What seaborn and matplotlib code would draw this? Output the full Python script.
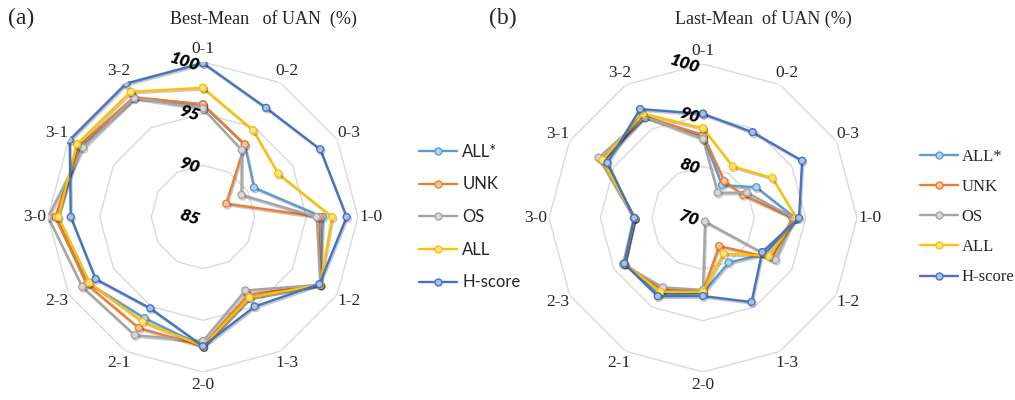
import numpy as np
import matplotlib
matplotlib.use("Agg")
import matplotlib.pyplot as plt
import matplotlib.patheffects as pe
from matplotlib.lines import Line2D
from matplotlib.colors import to_rgb
import seaborn as sns

# ---- data ---------------------------------------------------------------
categories = ["0-1", "0-2", "0-3", "1-0", "1-2", "1-3",
              "2-0", "2-1", "2-3", "3-0", "3-1", "3-2"]
series_names = ["ALL*", "UNK", "OS", "ALL", "H-score"]

# Best-Mean of UAN (%)
best_all_star = [95.9, 93.1, 90.7, 96.6, 98.1, 94.0, 97.5, 96.3, 97.8, 99.1, 98.7, 98.3]
best_unk      = [95.9, 93.1, 87.6, 96.3, 98.1, 93.7, 97.5, 97.4, 98.0, 99.3, 98.8, 98.4]
best_os       = [95.5, 92.5, 89.3, 96.0, 98.1, 93.2, 97.0, 98.2, 98.5, 100.0, 98.4, 98.3]
best_all      = [97.5, 94.7, 93.4, 97.5, 98.1, 94.0, 97.5, 96.7, 97.7, 99.0, 99.1, 99.0]
best_hscore   = [99.9, 97.2, 98.1, 98.9, 98.0, 95.0, 97.5, 95.2, 97.0, 97.8, 99.9, 99.9]

# Last-Mean of UAN (%)
last_all_star = [86.0, 77.4, 82.0, 88.0, 84.0, 80.0, 84.6, 87.2, 87.7, 83.3, 92.3, 92.8]
last_unk      = [86.2, 78.3, 79.0, 87.4, 85.6, 76.3, 84.3, 86.2, 87.7, 83.3, 92.8, 92.8]
last_os       = [85.4, 75.7, 79.9, 87.8, 86.3, 70.8, 84.0, 85.6, 88.0, 83.5, 93.5, 92.8]
last_all      = [87.5, 81.6, 85.6, 88.2, 84.8, 78.0, 84.4, 86.6, 87.7, 83.3, 92.6, 93.5]
last_hscore   = [90.3, 89.3, 92.3, 88.7, 83.3, 88.9, 85.2, 87.6, 87.7, 83.4, 91.5, 94.5]

best_ticks = [85, 90, 95, 100]
last_ticks = [70, 80, 90, 100]

colors = ["#5B9BD5", "#ED7D31", "#A5A5A5", "#FFC000", "#4472C4"]

# ---- style --------------------------------------------------------------
sns.set_style("white")
plt.rcParams["font.family"] = ["Liberation Serif", "DejaVu Serif"]

SERIF = "Liberation Serif"
SANS = "Lato"


def lighten(c, amount=0.55):
    r, g, b = to_rgb(c)
    return (r + (1 - r) * amount, g + (1 - g) * amount, b + (1 - b) * amount)


def draw_radar(ax, series, ticks):
    rmin, rmax = ticks[0], ticks[-1]
    theta = np.linspace(0, 2 * np.pi, len(categories), endpoint=False)
    theta_c = np.append(theta, theta[0] + 2 * np.pi)

    ax.set_theta_zero_location("N")
    ax.set_theta_direction(-1)
    ax.grid(False)
    ax.spines["polar"].set_visible(False)
    ax.patch.set_alpha(0)

    # polygonal rings
    for r in ticks[1:]:
        ax.plot(theta_c, [r] * len(theta_c), color="#D9D9D9", lw=1.0, zorder=1)

    shadow = [pe.SimpleLineShadow(offset=(0.8, -1.2), shadow_color="k", alpha=0.22),
              pe.Normal()]
    for i, (name, vals) in enumerate(zip(series_names, series)):
        v = np.append(vals, vals[0])
        sns.lineplot(x=theta_c, y=v, ax=ax, sort=False, estimator=None,
                     color=colors[i], lw=1.7, marker="o", markersize=5,
                     markerfacecolor=lighten(colors[i]),
                     markeredgecolor=colors[i], markeredgewidth=1.0,
                     path_effects=shadow, zorder=3 + i, legend=False)

    ax.set_ylim(rmin, rmax)
    ax.set_xticks([])
    ax.set_yticks([])
    ax.set_xlabel("")
    ax.set_ylabel("")

    # category labels around the outer ring
    lab_r = rmax + (rmax - rmin) * 0.087
    for t, cat in zip(theta, categories):
        ax.text(t, lab_r, cat, ha="center", va="center", family=SERIF,
                fontsize=12.5, clip_on=False)

    # value labels along the first spoke
    for r in ticks:
        ax.annotate(str(r), xy=(0, r), xytext=(-1, 0), textcoords="offset points",
                    ha="right", va="center", rotation=-18, family=SANS,
                    fontweight="heavy", fontstyle="italic", fontsize=12.5,
                    color="black", zorder=10)


fig = plt.figure(figsize=(10.15, 4.0), dpi=100)
W, H = 1015, 400

ax1 = fig.add_axes([48 / W, 28 / H, 310 / W, 310 / H], projection="polar")
ax2 = fig.add_axes([549 / W, 28 / H, 308 / W, 308 / H], projection="polar")

draw_radar(ax1, [best_all_star, best_unk, best_os, best_all, best_hscore], best_ticks)
draw_radar(ax2, [last_all_star, last_unk, last_os, last_all, last_hscore], last_ticks)

fig.text(263 / W, 1 - 19 / H, "Best-Mean   of UAN  (%)", ha="center", va="center",
         family=SERIF, fontsize=13)
fig.text(763 / W, 1 - 19 / H, "Last-Mean  of UAN (%)", ha="center", va="center",
         family=SERIF, fontsize=13)
fig.text(21 / W, 1 - 18 / H, "(a)", ha="center", va="center", family=SERIF, fontsize=17)
fig.text(503 / W, 1 - 18 / H, "(b)", ha="center", va="center", family=SERIF, fontsize=17)


def handles():
    return [Line2D([], [], color=c, lw=1.7, marker="o", markersize=5,
                   markerfacecolor=lighten(c), markeredgecolor=c, markeredgewidth=1.0)
            for c in colors]


fig.legend(handles(), series_names, loc="center left",
           bbox_to_anchor=(419 / W, 1 - 217 / H), frameon=False,
           prop={"family": SANS, "size": 12}, handlelength=2.3, handletextpad=0.3,
           labelspacing=1.0, borderpad=0, borderaxespad=0)
fig.legend(handles(), series_names, loc="center left",
           bbox_to_anchor=(920 / W, 1 - 217 / H), frameon=False,
           prop={"family": SERIF, "size": 12}, handlelength=2.3, handletextpad=0.2,
           labelspacing=0.85, borderpad=0, borderaxespad=0)

fig.savefig("out.png", dpi=100, facecolor="white")
